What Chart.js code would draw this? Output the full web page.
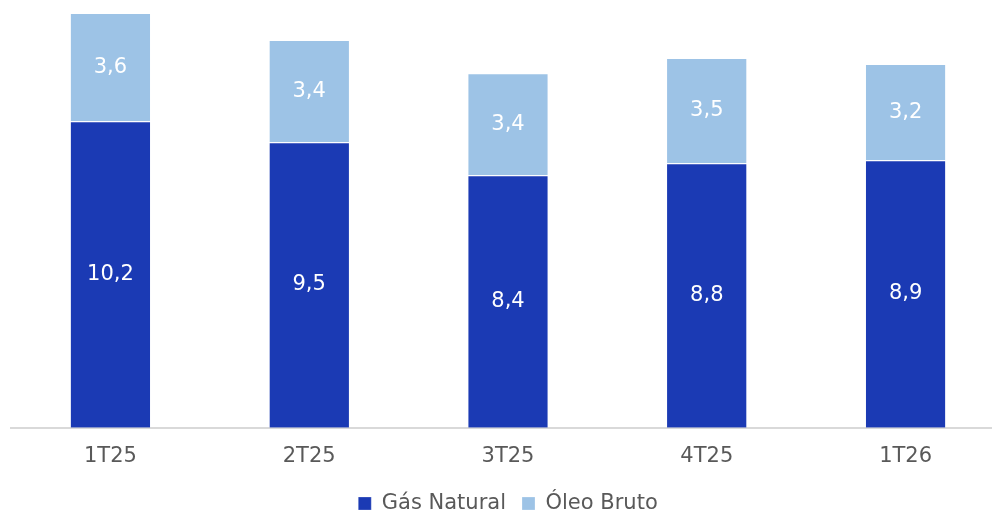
<!DOCTYPE html>
<html>
<head>
<meta charset="utf-8">
<script src="https://cdn.jsdelivr.net/npm/chart.js@4.4.1/dist/chart.umd.min.js"></script>
<style>
  html, body { margin: 0; padding: 0; background: #fff; overflow: hidden; }
  #wrap { position: absolute; left: 0; top: 0; width: 1010px; height: 524px; }
</style>
</head>
<body>
<div id="wrap"><canvas id="chart"></canvas></div>
<script>
// Chart data
const categories = ['1T25', '2T25', '3T25', '4T25', '1T26'];
const gasNatural = [10.2, 9.5, 8.4, 8.8, 8.9];
const oleoBruto = [3.6, 3.4, 3.4, 3.5, 3.2];

const fontFamily = "'DejaVu Sans', sans-serif";

/**
 * Draws the white value labels in the middle of every bar segment.
 */
const barLabels = {
    id: 'barLabels',
    afterDatasetsDraw(chart) {
        const ctx = chart.ctx;
        ctx.save();
        ctx.fillStyle = '#ffffff';
        ctx.font = '21px ' + fontFamily;
        ctx.textAlign = 'center';
        ctx.textBaseline = 'middle';
        chart.data.datasets.forEach((ds, i) => {
            chart.getDatasetMeta(i).data.forEach((bar, j) => {
                const { x, y, base } = bar.getProps(['x', 'y', 'base'], true);
                const text = ds.data[j].toFixed(1).replace('.', ',');
                ctx.fillText(text, x, (y + base) / 2);
            });
        });
        ctx.restore();
    }
};

const ctx = document.getElementById('chart').getContext('2d');
const chart = new Chart(ctx, {
    type: 'bar',
    data: {
        labels: categories,
        datasets: [
            {
                label: 'Gás Natural',
                data: gasNatural,
                backgroundColor: '#1b3ab4',
                borderColor: '#ffffff',
                borderWidth: { top: 1, left: 0, right: 0, bottom: 0 },
                borderSkipped: false,
                barPercentage: 0.4,
                categoryPercentage: 1
            },
            {
                label: 'Óleo Bruto',
                data: oleoBruto,
                backgroundColor: '#9dc3e6',
                borderColor: '#ffffff',
                borderWidth: { top: 1, left: 0, right: 0, bottom: 0 },
                borderSkipped: false,
                barPercentage: 0.4,
                categoryPercentage: 1
            }
        ]
    },
    options: {
        responsive: true,
        maintainAspectRatio: false,
        animation: false,
        layout: {
            padding: { left: 11, right: 5, top: 7, bottom: 0 }
        },
        plugins: {
            legend: {
                position: 'bottom',
                labels: {
                    color: '#595959',
                    font: { family: fontFamily, size: 21 },
                    boxWidth: 13,
                    boxHeight: 13,
                    padding: 16
                }
            },
            tooltip: { enabled: false }
        },
        scales: {
            x: {
                stacked: true,
                grid: { display: false },
                border: { display: true, color: '#d9d9d9', width: 2 },
                ticks: {
                    color: '#595959',
                    font: { family: fontFamily, size: 21 },
                    padding: 8
                }
            },
            y: {
                stacked: true,
                display: false,
                min: 0,
                max: 14
            }
        }
    },
    plugins: [barLabels]
});
</script>
</body>
</html>
